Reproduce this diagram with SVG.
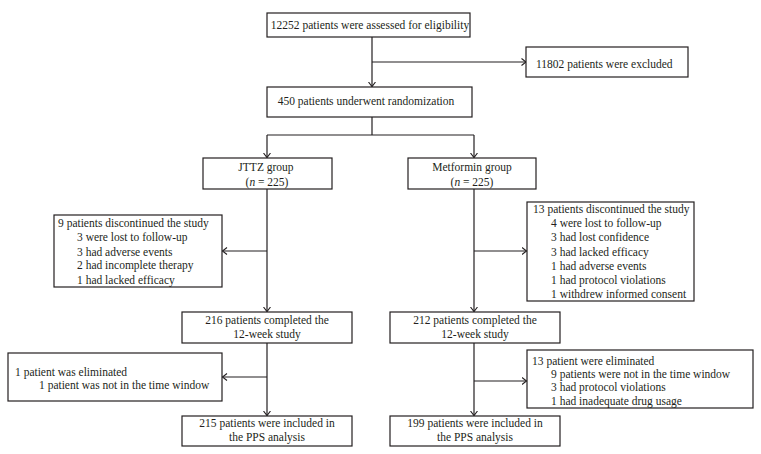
<svg xmlns="http://www.w3.org/2000/svg" width="761" height="454" viewBox="0 0 761 454">
<defs>
<marker id="ah" markerWidth="8" markerHeight="8" refX="5" refY="4" orient="auto" markerUnits="userSpaceOnUse">
<path d="M0.5,0.5 L5,4 L0.5,7.5" fill="none" stroke="#231f20" stroke-width="1.1"/>
</marker>
<style>
.box{fill:#fff;stroke:#231f20;stroke-width:1.2}
.t{font-family:"Liberation Serif","Times New Roman",serif;font-size:11.5px;fill:#231f20}
.c{text-anchor:middle}
.ln{fill:none;stroke:#231f20;stroke-width:1.2}
</style>
</defs>
<rect width="761" height="454" fill="#fff"/>
<g id="connectors">
<line class="ln" x1="372" y1="37" x2="372" y2="86.5" marker-end="url(#ah)"/>
<line class="ln" x1="372" y1="62" x2="526" y2="62" marker-end="url(#ah)"/>
<polyline class="ln" points="372,117 372,135"/>
<line class="ln" x1="267" y1="135" x2="474" y2="135"/>
<line class="ln" x1="267" y1="135" x2="267" y2="157.5" marker-end="url(#ah)"/>
<line class="ln" x1="474" y1="135" x2="474" y2="157.5" marker-end="url(#ah)"/>
<line class="ln" x1="267" y1="189" x2="267" y2="311.5" marker-end="url(#ah)"/>
<line class="ln" x1="267" y1="251" x2="222.5" y2="251" marker-end="url(#ah)"/>
<line class="ln" x1="474" y1="189" x2="474" y2="311.5" marker-end="url(#ah)"/>
<line class="ln" x1="474" y1="251" x2="526.5" y2="251" marker-end="url(#ah)"/>
<line class="ln" x1="267" y1="343" x2="267" y2="415.5" marker-end="url(#ah)"/>
<line class="ln" x1="267" y1="377" x2="222.5" y2="377" marker-end="url(#ah)"/>
<line class="ln" x1="474" y1="343" x2="474" y2="415.5" marker-end="url(#ah)"/>
<line class="ln" x1="474" y1="381" x2="526.5" y2="381" marker-end="url(#ah)"/>
</g>
<g id="assessed">
<rect class="box" x="267" y="13" width="203" height="24"/>
<text class="t c" x="370" y="29">12252 patients were assessed for eligibility</text>
</g>
<g id="excluded">
<rect class="box" x="526" y="47" width="162" height="30"/>
<text class="t" x="536" y="68">11802 patients were excluded</text>
</g>
<g id="randomized">
<rect class="box" x="267" y="87" width="205" height="30"/>
<text class="t c" x="366" y="105">450 patients underwent randomization</text>
</g>
<g id="jttz">
<rect class="box" x="203" y="158" width="129" height="31"/>
<text class="t c" x="266" y="171">JTTZ group</text>
<text class="t c" x="267" y="186">(<tspan font-style="italic">n</tspan> = 225)</text>
</g>
<g id="metformin">
<rect class="box" x="408" y="158" width="128" height="31"/>
<text class="t c" x="472" y="171">Metformin group</text>
<text class="t c" x="472" y="186">(<tspan font-style="italic">n</tspan> = 225)</text>
</g>
<g id="jttz-discontinued">
<rect class="box" x="54" y="215" width="168" height="72"/>
<text class="t" x="58" y="227">9 patients discontinued the study</text>
<text class="t" x="77" y="241">3 were lost to follow-up</text>
<text class="t" x="77" y="256">3 had adverse events</text>
<text class="t" x="77" y="269">2 had incomplete therapy</text>
<text class="t" x="77" y="284">1 had lacked efficacy</text>
</g>
<g id="met-discontinued">
<rect class="box" x="527" y="202" width="167" height="99"/>
<text class="t" x="533" y="213">13 patients discontinued the study</text>
<text class="t" x="551" y="227">4 were lost to follow-up</text>
<text class="t" x="551" y="241">3 had lost confidence</text>
<text class="t" x="551" y="256">3 had lacked efficacy</text>
<text class="t" x="551" y="270">1 had adverse events</text>
<text class="t" x="551" y="284">1 had protocol violations</text>
<text class="t" x="551" y="298">1 withdrew informed consent</text>
</g>
<g id="jttz-completed">
<rect class="box" x="182" y="312" width="170" height="31"/>
<text class="t c" x="267" y="324">216 patients completed the</text>
<text class="t c" x="267" y="338">12-week study</text>
</g>
<g id="met-completed">
<rect class="box" x="390" y="312" width="170" height="31"/>
<text class="t c" x="475" y="324">212 patients completed the</text>
<text class="t c" x="475" y="338">12-week study</text>
</g>
<g id="jttz-eliminated">
<rect class="box" x="8" y="353" width="214" height="48"/>
<text class="t" x="15" y="376">1 patient was eliminated</text>
<text class="t" x="39" y="389">1 patient was not in the time window</text>
</g>
<g id="met-eliminated">
<rect class="box" x="527" y="350" width="226" height="58"/>
<text class="t" x="532" y="365">13 patient were eliminated</text>
<text class="t" x="551" y="378">9 patients were not in the time window</text>
<text class="t" x="551" y="391">3 had protocol violations</text>
<text class="t" x="551" y="405">1 had inadequate drug usage</text>
</g>
<g id="jttz-pps">
<rect class="box" x="182" y="416" width="170" height="30"/>
<text class="t c" x="267" y="427">215 patients were included in</text>
<text class="t c" x="267" y="441">the PPS analysis</text>
</g>
<g id="met-pps">
<rect class="box" x="390" y="416" width="170" height="30"/>
<text class="t c" x="475" y="427">199 patients were included in</text>
<text class="t c" x="475" y="441">the PPS analysis</text>
</g>
</svg>
